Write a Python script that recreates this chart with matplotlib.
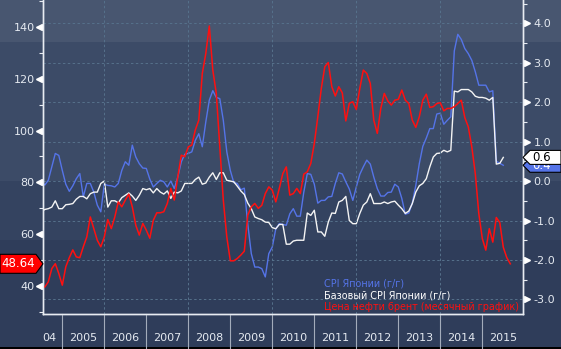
import numpy as np
import pandas as pd
import matplotlib
matplotlib.use('Agg')
import matplotlib.pyplot as plt
from matplotlib.patches import Polygon
from matplotlib.transforms import IdentityTransform, blended_transform_factory

W, H = 561, 349

# Brent, monthly close (left axis), from Jul 2004
oil_start = '2004-07'
oil_brent = [
    39.7, 39.7, 41.7, 46.8, 48.7, 44.9, 40.4, 47.5, 51.0, 54.0, 51.3, 51.0,
    55.2, 59.0, 66.7, 62.2, 57.7, 55.2, 59.0, 65.7, 62.2, 66.7, 72.5, 70.6,
    73.2, 75.5, 70.6, 63.5, 59.7, 64.2, 61.6, 58.5, 65.4, 68.3, 68.3, 68.7,
    71.9, 77.7, 73.2, 82.2, 90.5, 89.9, 93.7, 94.4, 100.2, 104.0, 122.0, 129.7,
    140.3, 123.3, 114.3, 93.7, 73.2, 59.0, 49.8, 49.8, 50.7, 52.0, 53.5, 67.4,
    70.6, 71.9, 70.0, 71.2, 75.7, 78.3, 77.0, 72.5, 77.7, 83.4, 86.0, 75.1,
    75.7, 77.7, 75.7, 83.2, 84.1, 87.3, 95.0, 105.3, 116.2, 124.6, 126.2, 116.9,
    113.3, 116.9, 114.5, 103.7, 110.5, 111.1, 108.1, 116.2, 123.3, 122.0, 118.1, 104.0,
    98.9, 108.5, 114.3, 111.4, 109.8, 111.7, 112.0, 115.6, 111.7, 110.4, 104.0, 101.2,
    105.3, 111.7, 114.0, 108.9, 109.2, 110.4, 110.7, 107.6, 108.5, 108.5, 109.2, 110.4,
    111.7, 105.0, 101.4, 93.7, 83.4, 68.0, 58.4, 53.9, 62.2, 57.0, 66.5, 64.5,
    55.0, 51.0, 48.64,
]

# Japan CPI y/y and core CPI y/y (right axis), from Jul 2004
cpi_start = '2004-07'
cpi_japan = [
    -0.02, -0.10, 0.02, 0.36, 0.70, 0.65, 0.27, -0.08, -0.26, -0.12, 0.06, 0.19,
    -0.40, -0.06, -0.06, -0.28, -0.61, -0.78, -0.08, -0.11, -0.12, -0.15, -0.06, 0.27,
    0.49, 0.40, 0.91, 0.61, 0.44, 0.33, 0.32, 0.05, -0.15, -0.06, 0.02, -0.02,
    -0.15, 0.00, -0.19, 0.10, 0.49, 0.68, 0.70, 0.74, 1.03, 1.20, 0.87, 1.50,
    2.05, 2.29, 2.12, 2.09, 1.54, 0.74, 0.27, -0.04, -0.06, -0.22, -0.18, -1.10,
    -1.84, -2.18, -2.18, -2.22, -2.43, -1.84, -1.67, -1.21, -1.08, -1.10, -1.12, -0.83,
    -0.70, -0.89, -0.89, -0.28, 0.19, 0.17, -0.08, -0.56, -0.49, -0.49, -0.40, -0.39,
    -0.06, 0.21, 0.18, -0.02, -0.20, -0.49, -0.15, 0.17, 0.36, 0.53, 0.43, 0.10,
    -0.19, -0.38, -0.38, -0.29, -0.28, -0.08, -0.15, -0.44, -0.84, -0.81, -0.56, -0.11,
    0.44, 0.88, 1.09, 1.33, 1.33, 1.70, 1.72, 1.44, 1.54, 1.63, 3.30, 3.72,
    3.59, 3.36, 3.23, 3.06, 2.77, 2.43, 2.43, 2.43, 2.26, 2.29, 0.50, 0.45,
    0.40,
]
cpi_core = [
    -0.78, -0.72, -0.70, -0.66, -0.50, -0.70, -0.70, -0.60, -0.59, -0.57, -0.46, -0.39,
    -0.39, -0.45, -0.32, -0.28, -0.28, -0.06, 0.00, -0.66, -0.50, -0.50, -0.55, -0.42,
    -0.36, -0.30, -0.38, -0.49, -0.36, -0.19, -0.22, -0.19, -0.30, -0.19, -0.28, -0.33,
    -0.25, -0.44, -0.28, -0.30, -0.25, -0.06, -0.06, -0.06, 0.04, 0.10, -0.08, -0.05,
    0.10, 0.21, 0.04, 0.21, 0.21, 0.02, 0.00, -0.02, -0.13, -0.25, -0.34, -0.56,
    -0.70, -0.91, -0.95, -0.98, -1.04, -1.05, -1.18, -1.21, -1.10, -1.10, -1.60, -1.60,
    -1.52, -1.50, -1.50, -1.50, -0.81, -0.87, -0.74, -1.29, -1.29, -1.40, -1.04, -0.81,
    -0.82, -0.53, -0.49, -0.39, -1.00, -1.08, -1.08, -0.82, -0.61, -0.53, -0.32, -0.57,
    -0.57, -0.57, -0.53, -0.57, -0.53, -0.51, -0.61, -0.70, -0.82, -0.76, -0.57, -0.28,
    -0.12, -0.06, 0.06, 0.36, 0.61, 0.70, 0.71, 0.78, 0.74, 0.78, 2.28, 2.26,
    2.32, 2.32, 2.32, 2.26, 2.15, 2.12, 2.12, 2.10, 2.05, 2.12, 0.43, 0.45,
    0.60,
]

years = list(range(2005, 2016))
year_labels = ['04'] + [str(y) for y in years]
legend_labels = ['CPI Японии (г/г)', 'Базовый CPI Японии (г/г)',
                 'Цена нефти брент (месячный график)']

BLUE = '#5574e8'
WHITE = '#f4f4f4'
RED = '#ff1010'
TEXT = '#e4e9f0'
GRID = '#56718b'
AXIS = '#e8ecf2'


def decimal_year(start, n):
    d = pd.date_range(start, periods=n, freq='MS')
    return np.asarray(d.year + (d.month - 1) / 12.0)


def value_tag(x_tip, y, text, side, face, color, z):
    """Price tag glued to an axis at display coords (x_tip, y)."""
    if side == 'left':
        verts = [(0, y + 9.5), (36, y + 9.5), (x_tip, y), (36, y - 9.5), (0, y - 9.5)]
        tx, ha = 18, 'center'
    else:
        verts = [(x_tip, y), (x_tip + 7, y + 7), (W, y + 7), (W, y - 7), (x_tip + 7, y - 7)]
        tx, ha = x_tip + 9, 'left'
    fig.add_artist(Polygon(verts, closed=True, transform=IdentityTransform(),
                           fc=face, ec='black', lw=0.8, zorder=z))
    fig.text(tx, y, text, transform=IdentityTransform(), ha=ha, va='center',
             color=color, fontsize=8.5, zorder=z + 0.5)


fig = plt.figure(figsize=(W / 100, H / 100), dpi=100)

# banded backdrop behind everything
bg = fig.add_axes([0, 0, 1, 1], zorder=-10)
bg.set_xlim(0, W)
bg.set_ylim(H, 0)
bg.axis('off')
for y0, y1, c in [(0, 42, '#485670'), (42, 181, '#3c4b67'),
                  (181, 240, '#344360'), (240, H, '#2f3d5a')]:
    bg.axhspan(y0, y1, color=c, lw=0)
bg.axhspan(H - 2, H, color='black', lw=0)

ax = fig.add_axes([43 / W, 35 / H, 480 / W, 314 / H])
ax2 = ax.twinx()
ax.set_zorder(ax2.get_zorder() + 1)
ax.patch.set_visible(False)
ax2.patch.set_visible(False)

t_oil = decimal_year(oil_start, len(oil_brent))
t_cpi = decimal_year(cpi_start, len(cpi_japan))

ax2.plot(t_cpi, cpi_japan, color=BLUE, lw=1.0)
ax2.plot(t_cpi, cpi_core, color=WHITE, lw=1.0)
ax.plot(t_oil, oil_brent, color=RED, lw=1.1)

x0 = 2005 - 19.3 / 42
ax.set_xlim(x0, x0 + 480 / 42)
ax.set_ylim(29.3, 150.3)
ax2.set_ylim(-3.37, 4.59)

# grid: dashed, horizontals follow the right scale
ax2.set_yticks(np.arange(-3, 4.5, 1.0))
ax2.grid(axis='y', color=GRID, ls=(0, (2.5, 2.5)), lw=0.7)
for y in range(2006, 2015, 2):
    ax2.axvline(y, color=GRID, ls=(0, (2.5, 2.5)), lw=0.7)

for a in (ax, ax2):
    for s in a.spines.values():
        s.set_color(AXIS)
        s.set_linewidth(1.0)
    a.spines['top'].set_visible(False)

left_ticks = np.arange(40, 141, 20)
ax.set_yticks(left_ticks)
ax.set_yticks(np.arange(30, 151, 20), minor=True)
ax.tick_params(axis='y', which='major', length=0, pad=6, labelsize=8, labelcolor=TEXT)
ax.tick_params(axis='y', which='minor', length=3, width=0.8, color=AXIS)

ax2.set_yticks(np.arange(-2.5, 4.6, 1.0), minor=True)
ax2.yaxis.set_major_formatter(matplotlib.ticker.FormatStrFormatter('%.1f'))
ax2.tick_params(axis='y', which='major', length=0, pad=7.5, labelsize=8, labelcolor=TEXT)
ax2.tick_params(axis='y', which='minor', length=3, width=0.8, color=AXIS)

# triangle markers in place of major ticks
tr_l = blended_transform_factory(ax.transAxes, ax.transData)
ax.plot(np.full(len(left_ticks), -4 / 480), left_ticks, ls='none', marker='<',
        ms=4.5, color='white', transform=tr_l, clip_on=False)
right_ticks = np.arange(-3, 4.5, 1.0)
tr_r = blended_transform_factory(ax2.transAxes, ax2.transData)
ax2.plot(np.full(len(right_ticks), 1 + 4 / 480), right_ticks, ls='none', marker='>',
         ms=4.5, color='white', transform=tr_r, clip_on=False)

# year labels centred in each year, separators below the axis
ax.set_xticks([2005 + (49.5 - 62.3) / 42] + [y + 0.5 for y in years])
ax.set_xticklabels(year_labels)
ax.tick_params(axis='x', length=0, pad=14, labelsize=8, labelcolor=TEXT)
tr_x = blended_transform_factory(ax.transData, ax.transAxes)
for y in years:
    ax.plot([y, y], [0, -35 / 314], color='#a3acbb', lw=0.8,
            transform=tr_x, clip_on=False)

for i, (label, c) in enumerate(zip(legend_labels, [BLUE, 'white', RED])):
    ax.text(0.585, 0.0987 - i * 0.0382, label, transform=ax.transAxes,
            color=c, fontsize=6.9, va='center', ha='left')

# last-value tags
_, y_oil = ax.transData.transform((x0, oil_brent[-1]))
value_tag(43, y_oil, '%.2f' % oil_brent[-1], 'left', '#ff0000', 'white', 20)
_, y_cpi = ax2.transData.transform((x0, cpi_japan[-1]))
value_tag(523, y_cpi, '%.1f' % cpi_japan[-1], 'right', BLUE, 'white', 20)
_, y_core = ax2.transData.transform((x0, cpi_core[-1]))
value_tag(523, y_core, '%.1f' % cpi_core[-1], 'right', 'white', 'black', 22)

fig.savefig('out.png', dpi=100)
